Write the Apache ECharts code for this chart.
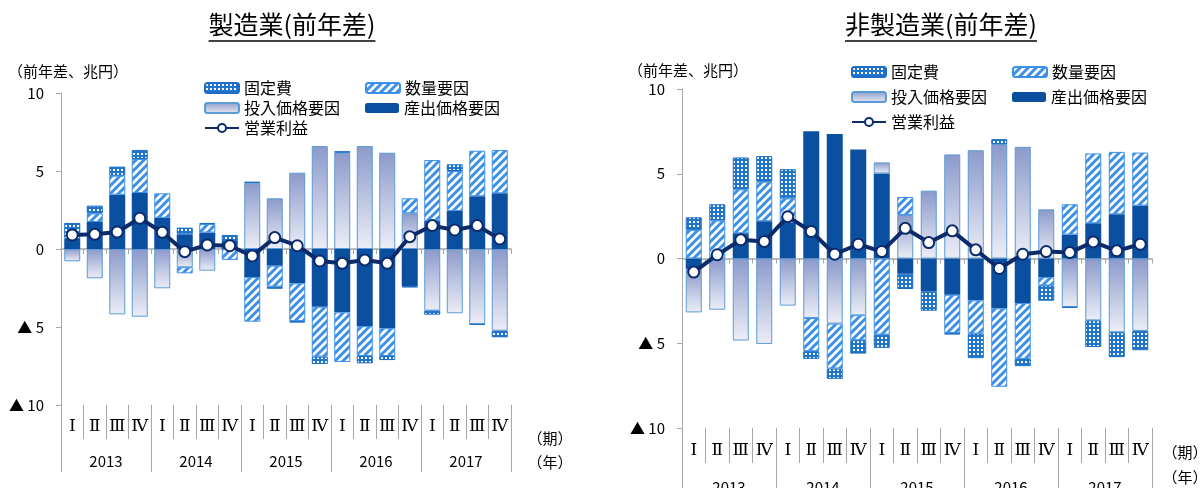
<!DOCTYPE html>
<html>
<head>
<meta charset="utf-8">
<script src="https://cdn.jsdelivr.net/npm/echarts@6/dist/echarts.min.js"></script>
<style>
  html, body { margin: 0; padding: 0; background: #ffffff; }
  #chart { width: 1204px; height: 488px; }
</style>
</head>
<body>
<div id="chart"></div>
<script>
// Quarters (2013–2017) and year groups for the two-level category axis
const quarterLabels = ['Ⅰ', 'Ⅱ', 'Ⅲ', 'Ⅳ'];
const years = ['2013', '2014', '2015', '2016', '2017'];
const periods = [];
years.forEach(y => quarterLabels.forEach(q => periods.push(y + '-' + q)));

// 製造業 (前年差, 兆円)
const mfgOutputPrice = [0.64, 1.73, 3.48, 3.59, 2.0, 0.94, 1.05, 0.51, -1.8, -1.07, -2.2, -3.7, -4.06, -4.94, -5.08, -2.37, 1.79, 2.44, 3.38, 3.57];
const mfgInputPrice  = [-0.79, -1.88, -4.19, -4.34, -2.52, -1.17, -1.39, null, 4.25, 3.25, 4.89, 6.6, 6.17, 6.6, 6.17, 2.29, -3.95, -4.12, -4.81, -5.24];
const mfgVolume      = [null, 0.55, 1.22, 2.18, 1.57, -0.39, 0.55, -0.7, -2.86, -1.34, -2.42, -3.2, -3.18, -1.92, -1.78, 0.96, 3.91, 2.56, 2.92, 2.78];
const mfgFixedCost   = [1.03, 0.5, 0.58, 0.58, null, 0.43, 0.07, 0.39, 0.05, -0.14, -0.1, -0.47, 0.1, -0.47, -0.26, -0.1, -0.26, 0.43, -0.05, -0.42];
const mfgProfit      = [0.9, 0.94, 1.09, 1.97, 1.07, -0.17, 0.26, 0.21, -0.45, 0.73, 0.21, -0.77, -0.92, -0.7, -0.92, 0.79, 1.5, 1.22, 1.5, 0.64];

// 非製造業 (前年差, 兆円)
const nonOutputPrice = [-0.63, null, 1.49, 2.2, 2.12, 7.51, 7.35, 6.43, 5.02, -0.9, -1.94, -2.14, -2.47, -2.94, -2.63, -1.1, 1.41, 2.08, 2.61, 3.12];
const nonInputPrice  = [-2.55, -3.02, -4.84, -5.04, -2.78, -3.51, -3.84, -3.35, 0.65, 2.57, 4.0, 6.14, 6.39, 6.75, 6.59, 2.9, -2.86, -3.65, -4.35, -4.27];
const nonVolume      = [1.69, 2.24, 2.59, 2.33, 1.43, -1.96, -2.65, -1.47, -4.49, 1.06, null, -2.25, -1.96, -4.63, -3.29, -0.49, 1.79, 4.12, 3.68, 3.13];
const nonFixedCost   = [0.74, 0.96, 1.88, 1.51, 1.72, -0.45, -0.61, -0.79, -0.78, -0.9, -1.14, -0.1, -1.45, 0.29, -0.43, -0.9, -0.05, -1.57, -1.47, -1.14];
const nonProfit      = [-0.8, 0.22, 1.1, 1.0, 2.47, 1.59, 0.25, 0.84, 0.41, 1.78, 0.94, 1.63, 0.51, -0.59, 0.25, 0.41, 0.35, 0.98, 0.45, 0.84];

const NAME_FIXED = '固定費';
const NAME_VOLUME = '数量要因';
const NAME_INPUT = '投入価格要因';
const NAME_OUTPUT = '産出価格要因';
const NAME_PROFIT = '営業利益';

const FONT = '"Noto Sans CJK JP", "Noto Sans", sans-serif';
const AXIS_GRAY = '#a6a6a6';
const DARK_BLUE = '#0b4fa1';
const NAVY = '#0c2b6b';

// Fill patterns
function hatchTile() {
  const c = document.createElement('canvas');
  c.width = 8; c.height = 8;
  const g = c.getContext('2d');
  g.fillStyle = '#ffffff';
  g.fillRect(0, 0, 8, 8);
  g.strokeStyle = '#3d90e8';
  g.lineWidth = 3;
  g.beginPath();
  g.moveTo(-2, 10); g.lineTo(10, -2);
  g.moveTo(-6, 6); g.lineTo(6, -6);
  g.moveTo(2, 14); g.lineTo(14, 2);
  g.stroke();
  return c;
}
function dotTile() {
  const c = document.createElement('canvas');
  c.width = 4; c.height = 4;
  const g = c.getContext('2d');
  g.fillStyle = '#1f74cc';
  g.fillRect(0, 0, 4, 4);
  g.fillStyle = '#ffffff';
  g.fillRect(1, 1, 2, 2);
  return c;
}
const hatchFill = { image: hatchTile(), repeat: 'repeat' };
const dotFill = { image: dotTile(), repeat: 'repeat' };
const inputFill = new echarts.graphic.LinearGradient(0, 0, 0, 1, [
  { offset: 0, color: '#8c9acb' },
  { offset: 1, color: '#eceef6' }
]);

const panels = [
  { title: '製造業(前年差)', titleX: 292, left: 61, top: 93, width: 450, height: 312,
    qTick: 34, qMargin: 13, yTick: 67, yMargin: 49,
    output: mfgOutputPrice, input: mfgInputPrice, volume: mfgVolume, fixed: mfgFixedCost, profit: mfgProfit,
    unitX: 8, unitY: 71, periodX: 550, periodY: 438, yearY: 462,
    legendX: [204, 365], legendY: [88, 108, 128] },
  { title: '非製造業(前年差)', titleX: 941, left: 682, top: 89, width: 470, height: 339,
    qTick: 35, qMargin: 14, yTick: 70, yMargin: 52,
    output: nonOutputPrice, input: nonInputPrice, volume: nonVolume, fixed: nonFixedCost, profit: nonProfit,
    unitX: 628, unitY: 70, periodX: 1185, periodY: 452, yearY: 477,
    legendX: [851, 1012], legendY: [72, 97, 122] }
];

const grid = [], xAxis = [], yAxis = [], series = [], legend = [], graphic = [];

function measure(text, font) {
  const ctx = document.createElement('canvas').getContext('2d');
  ctx.font = font;
  return ctx.measureText(text).width;
}

panels.forEach((p, k) => {
  grid.push({
    left: p.left, top: p.top, width: p.width, height: p.height,
    containLabel: false, outerBoundsMode: 'none'
  });

  yAxis.push({
    gridIndex: k, type: 'value', min: -10, max: 10, interval: 5,
    axisLine: { show: true, lineStyle: { color: AXIS_GRAY, width: 1 } },
    axisTick: { show: true, length: 5, lineStyle: { color: AXIS_GRAY } },
    splitLine: { show: false },
    axisLabel: {
      margin: 17, color: '#000', fontSize: 15, fontFamily: FONT,
      formatter: v => (v < 0 ? '▲ ' + (-v) : String(v))
    }
  });

  // zero-line axis
  xAxis.push({
    gridIndex: k, type: 'category', data: periods, position: 'bottom',
    axisLine: { show: true, onZero: true, lineStyle: { color: AXIS_GRAY, width: 1.5 } },
    axisTick: { show: true, length: 5, interval: 0, lineStyle: { color: AXIS_GRAY } },
    axisLabel: { show: false }
  });
  // quarter row
  xAxis.push({
    gridIndex: k, type: 'category', data: periods, position: 'bottom',
    axisLine: { show: false, onZero: false },
    axisTick: { show: true, length: p.qTick, interval: 0, lineStyle: { color: AXIS_GRAY } },
    axisLabel: {
      interval: 0, margin: p.qMargin, color: '#000', fontSize: 17,
      fontFamily: '"DejaVu Serif", "Liberation Serif", serif',
      formatter: v => v.split('-')[1]
    }
  });
  // year row
  xAxis.push({
    gridIndex: k, type: 'category', data: years, position: 'bottom',
    axisLine: { show: false, onZero: false },
    axisTick: { show: true, length: p.yTick, interval: 0, lineStyle: { color: AXIS_GRAY } },
    axisLabel: { interval: 0, margin: p.yMargin, color: '#000', fontSize: 15, fontFamily: FONT }
  });

  const xi = k * 3;
  const stack = 'st' + k;
  const barBase = { type: 'bar', xAxisIndex: xi, yAxisIndex: k, stack: stack, barWidth: 16 };
  series.push(Object.assign({}, barBase, {
    name: NAME_OUTPUT, data: p.output,
    itemStyle: { color: DARK_BLUE }
  }));
  series.push(Object.assign({}, barBase, {
    name: NAME_INPUT, data: p.input,
    itemStyle: { color: inputFill, borderColor: '#5b9bd5', borderWidth: 1 }
  }));
  series.push(Object.assign({}, barBase, {
    name: NAME_VOLUME, data: p.volume,
    itemStyle: { color: hatchFill, borderColor: '#3d90e8', borderWidth: 1 }
  }));
  series.push(Object.assign({}, barBase, {
    name: NAME_FIXED, data: p.fixed,
    itemStyle: { color: dotFill, borderColor: '#1a6cc4', borderWidth: 1 }
  }));
  series.push({
    type: 'line', name: NAME_PROFIT, xAxisIndex: xi, yAxisIndex: k, data: p.profit, z: 5,
    symbol: 'circle', symbolSize: 11,
    lineStyle: { color: NAVY, width: 4 },
    itemStyle: { color: '#ffffff', borderColor: NAVY, borderWidth: 2 }
  });

  // legend, two columns by three rows
  const rows = [[NAME_FIXED, NAME_VOLUME], [NAME_INPUT, NAME_OUTPUT], [NAME_PROFIT]];
  rows.forEach((row, r) => {
    row.forEach((name, c) => {
      legend.push({
        data: [name], left: p.legendX[c], top: p.legendY[r] - 10, padding: 0,
        itemWidth: 34, itemHeight: 10, itemGap: 0, selectedMode: false,
        textStyle: { fontSize: 16, color: '#000', fontFamily: FONT, lineHeight: 20, padding: [0, 0, 0, 0] }
      });
    });
  });

  // panel title with underline
  const titleFont = '25px ' + FONT;
  const tw = measure(p.title, titleFont);
  graphic.push({
    type: 'text', x: p.titleX, y: 24,
    style: { text: p.title, font: titleFont, fill: '#000', textAlign: 'center', textVerticalAlign: 'middle' }
  });
  graphic.push({
    type: 'line', shape: { x1: p.titleX - tw / 2, y1: 41, x2: p.titleX + tw / 2, y2: 41 },
    style: { stroke: '#000', lineWidth: 1.5 }
  });
  graphic.push({
    type: 'text', x: p.unitX, y: p.unitY,
    style: { text: '（前年差、兆円）', font: '15px ' + FONT, fill: '#000', textVerticalAlign: 'middle' }
  });
  graphic.push({
    type: 'text', x: p.periodX, y: p.periodY,
    style: { text: '（期）', font: '15px ' + FONT, fill: '#000', textAlign: 'center', textVerticalAlign: 'middle' }
  });
  graphic.push({
    type: 'text', x: p.periodX, y: p.yearY,
    style: { text: '（年）', font: '15px ' + FONT, fill: '#000', textAlign: 'center', textVerticalAlign: 'middle' }
  });
});

const chart = echarts.init(document.getElementById('chart'), null, { renderer: 'canvas' });
chart.setOption({
  backgroundColor: '#ffffff',
  animation: false,
  grid: grid,
  xAxis: xAxis,
  yAxis: yAxis,
  legend: legend,
  series: series,
  graphic: graphic
});
</script>
</body>
</html>
